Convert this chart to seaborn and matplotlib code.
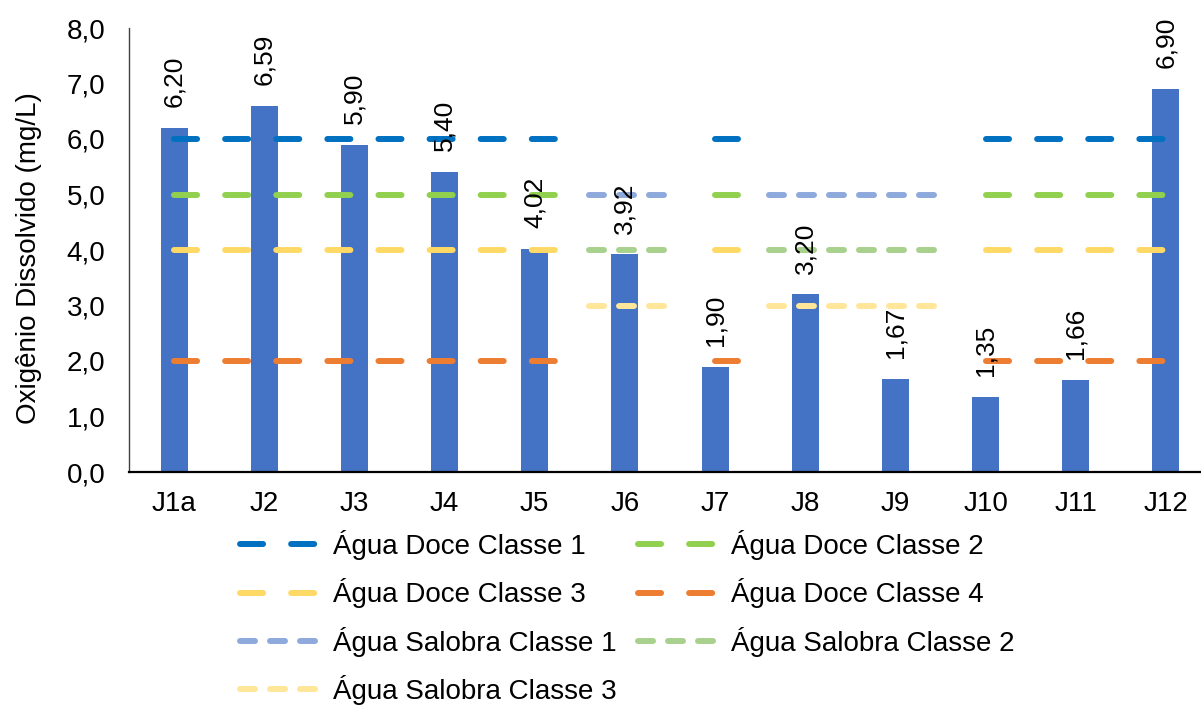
import matplotlib
matplotlib.use("Agg")
import matplotlib.pyplot as plt
from matplotlib.lines import Line2D
import seaborn as sns

# Pontos de coleta e oxigênio dissolvido medido (mg/L)
pontos = ["J1a", "J2", "J3", "J4", "J5", "J6", "J7", "J8", "J9", "J10", "J11", "J12"]
od = [6.20, 6.59, 5.90, 5.40, 4.02, 3.92, 1.90, 3.20, 1.67, 1.35, 1.66, 6.90]

# Limites mínimos por classe (None = não se aplica ao ponto)
doce_1 = [6, 6, 6, 6, 6, None, 6, None, None, 6, 6, 6]
doce_2 = [5, 5, 5, 5, 5, None, 5, None, None, 5, 5, 5]
doce_3 = [4, 4, 4, 4, 4, None, 4, None, None, 4, 4, 4]
doce_4 = [2, 2, 2, 2, 2, None, 2, None, None, 2, 2, 2]
salobra_1 = [None, None, None, None, None, 5, None, 5, 5, None, None, None]
salobra_2 = [None, None, None, None, None, 4, None, 4, 4, None, None, None]
salobra_3 = [None, None, None, None, None, 3, None, 3, 3, None, None, None]

y_ticks = [0, 1, 2, 3, 4, 5, 6, 7, 8]
y_tick_labels = ["0,0", "1,0", "2,0", "3,0", "4,0", "5,0", "6,0", "7,0", "8,0"]

# (nome, valores, cor, tipo)
series = [
    ("Água Doce Classe 1", doce_1, "#0070C0", "doce"),
    ("Água Doce Classe 2", doce_2, "#92D050", "doce"),
    ("Água Doce Classe 3", doce_3, "#FFD966", "doce"),
    ("Água Doce Classe 4", doce_4, "#ED7D31", "doce"),
    ("Água Salobra Classe 1", salobra_1, "#8EA9DB", "salobra"),
    ("Água Salobra Classe 2", salobra_2, "#A9D18E", "salobra"),
    ("Água Salobra Classe 3", salobra_3, "#FFE699", "salobra"),
]
estilos = {
    "doce": dict(lw=4.3, dashes=(16.6, 20.2), pad=(0.0, 0.25)),
    "salobra": dict(lw=4.3, dashes=(10.8, 10.8), pad=(0.40, 0.50)),
}


def trechos(vals):
    # agrupa pontos consecutivos com o mesmo limite
    out = []
    ini = None
    for i, v in enumerate(vals + [None]):
        if v is not None and ini is None:
            ini = i
        elif v is None and ini is not None:
            out.append((ini, i - 1, vals[ini]))
            ini = None
    return out


sns.set_style("white")
plt.rcParams["font.family"] = ["Liberation Sans", "DejaVu Sans"]
plt.rcParams["lines.scale_dashes"] = False
plt.rcParams["text.color"] = "#000000"
plt.rcParams["axes.labelcolor"] = "#000000"

fig = plt.figure(figsize=(12.01, 7.10), dpi=100)
ax = fig.add_axes([129 / 1201, 1 - 472 / 710, 1082 / 1201, 444 / 710])

sns.barplot(x=pontos, y=od, color="#4472C4", saturation=1, width=0.3,
            linewidth=0, ax=ax, zorder=2)

for i, v in enumerate(od):
    ax.annotate(f"{v:.2f}".replace(".", ","), (i, v), xytext=(0, 15),
                textcoords="offset points", rotation=90, ha="center",
                va="bottom", fontsize=19, color="#000000", zorder=5)

handles = []
for nome, vals, cor, tipo in series:
    st = estilos[tipo]
    pl, pr = st["pad"]
    for i0, i1, v in trechos(vals):
        ax.plot([i0 - pl, i1 + pr], [v, v], color=cor, lw=st["lw"],
                dashes=st["dashes"], dash_capstyle="round", zorder=4)
    handles.append(Line2D([], [], color=cor, lw=st["lw"], dashes=st["dashes"],
                          dash_capstyle="round", label=nome))

ax.set_ylim(0, 8)
ax.set_xlim(-0.5, len(pontos) - 0.5)
ax.set_yticks(y_ticks)
ax.set_yticklabels(y_tick_labels)
ax.tick_params(axis="both", length=0, labelsize=20, colors="#000000")
ax.tick_params(axis="y", pad=17)
ax.tick_params(axis="x", pad=14)
ax.set_xlabel("")
ax.set_ylabel("Oxigênio Dissolvido (mg/L)", fontsize=20, color="#000000")
ax.yaxis.set_label_coords(-0.080, 0.482)

for s in ["top", "right"]:
    ax.spines[s].set_visible(False)
ax.spines["left"].set_color("#404040")
ax.spines["left"].set_linewidth(1.0)
ax.spines["bottom"].set_color("#000000")
ax.spines["bottom"].set_linewidth(1.6)

# ordem para preencher linha a linha em duas colunas
ordem = [0, 2, 4, 6, 1, 3, 5]
fig.legend([handles[k] for k in ordem], [handles[k].get_label() for k in ordem],
           loc="upper left", bbox_to_anchor=(240 / 1201, 1 - 530 / 710),
           ncol=2, frameon=False, fontsize=20, handlelength=2.88,
           handletextpad=0.47, labelspacing=0.66, columnspacing=0.75,
           borderpad=0, borderaxespad=0, labelcolor="#000000")

fig.savefig("out.png", dpi=100)
